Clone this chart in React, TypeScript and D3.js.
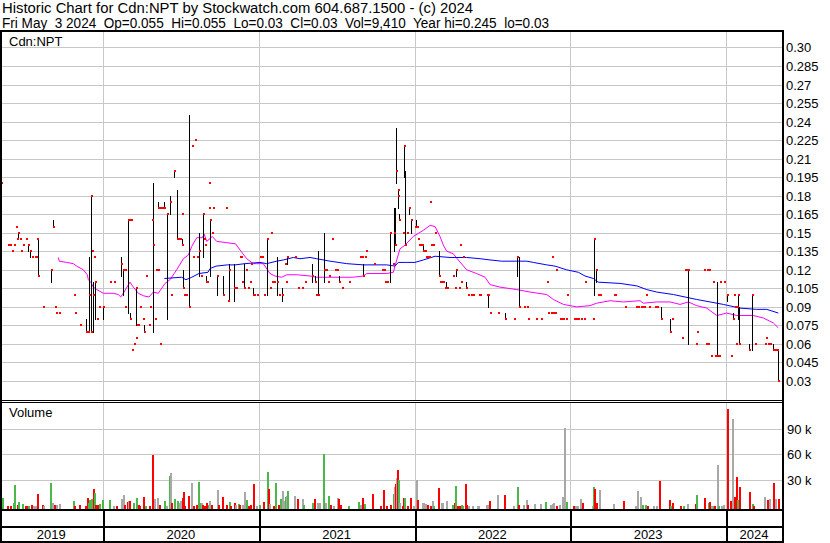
import React from "react";
import * as d3 from "d3";

// ---------- DATA ----------
const TITLE_LINE1 = "Historic Chart for Cdn:NPT by Stockwatch.com 604.687.1500 - (c) 2024";
const TITLE_LINE2 = "Fri May  3 2024  Op=0.055  Hi=0.055  Lo=0.03  Cl=0.03  Vol=9,410  Year hi=0.245  lo=0.03";
const SYMBOL = "Cdn:NPT";

const PRICE_TICKS = [0.3, 0.285, 0.27, 0.255, 0.24, 0.225, 0.21, 0.195, 0.18, 0.165, 0.15, 0.135, 0.12, 0.105, 0.09, 0.075, 0.06, 0.045, 0.03];
const PRICE_TICK_LABELS = ["0.30", "0.285", "0.27", "0.255", "0.24", "0.225", "0.21", "0.195", "0.18", "0.165", "0.15", "0.135", "0.12", "0.105", "0.09", "0.075", "0.06", "0.045", "0.03"];
const VOL_TICKS = [30, 60, 90];
const VOL_TICK_LABELS = ["30 k", "60 k", "90 k"];
const YEARS = [2019, 2020, 2021, 2022, 2023, 2024];
const START_T = 2019.336;
const END_T = 2024.359;

// [decimal year, high, low, close]
const PRICE_BARS: [number, number, number, number][] = [
  [2019.342,0.195,0.19,0.19],[2019.390,0.14,0.14,0.14],[2019.403,0.14,0.14,0.14],[2019.416,0.135,0.135,0.135],
  [2019.427,0.14,0.14,0.14],[2019.439,0.155,0.155,0.155],[2019.446,0.145,0.145,0.145],[2019.452,0.15,0.145,0.15],
  [2019.465,0.145,0.145,0.145],[2019.473,0.135,0.135,0.135],[2019.486,0.14,0.14,0.14],[2019.506,0.145,0.145,0.145],
  [2019.518,0.14,0.135,0.14],[2019.531,0.135,0.13,0.135],[2019.544,0.13,0.13,0.13],[2019.563,0.13,0.13,0.13],
  [2019.570,0.13,0.13,0.13],[2019.578,0.145,0.145,0.145],[2019.581,0.145,0.115,0.115],[2019.617,0.09,0.09,0.09],
  [2019.664,0.12,0.11,0.12],[2019.677,0.16,0.155,0.155],[2019.692,0.09,0.09,0.09],[2019.698,0.085,0.085,0.085],
  [2019.719,0.085,0.085,0.085],[2019.814,0.1,0.1,0.1],[2019.820,0.085,0.085,0.085],[2019.852,0.075,0.075,0.075],
  [2019.891,0.08,0.07,0.07],[2019.898,0.07,0.07,0.07],[2019.904,0.07,0.07,0.07],[2019.908,0.13,0.07,0.1],
  [2019.921,0.18,0.07,0.18],[2019.925,0.15,0.07,0.07],[2019.929,0.135,0.135,0.135],[2019.936,0.11,0.07,0.1],
  [2019.942,0.13,0.13,0.13],[2019.946,0.11,0.08,0.11],[2019.960,0.08,0.08,0.08],[2019.974,0.09,0.09,0.09],
  [2019.998,0.09,0.08,0.09],[2020.045,0.11,0.11,0.11],[2020.071,0.11,0.11,0.11],[2020.118,0.13,0.115,0.125],
  [2020.130,0.12,0.1,0.12],[2020.139,0.12,0.12,0.12],[2020.143,0.09,0.09,0.09],[2020.162,0.16,0.085,0.16],
  [2020.168,0.16,0.16,0.16],[2020.176,0.085,0.08,0.08],[2020.180,0.16,0.16,0.16],[2020.186,0.055,0.055,0.055],
  [2020.199,0.06,0.06,0.06],[2020.210,0.065,0.065,0.065],[2020.214,0.105,0.075,0.105],[2020.220,0.075,0.075,0.075],
  [2020.225,0.075,0.075,0.075],[2020.238,0.09,0.09,0.09],[2020.258,0.08,0.08,0.08],[2020.261,0.075,0.07,0.07],
  [2020.276,0.115,0.115,0.115],[2020.293,0.075,0.075,0.075],[2020.302,0.09,0.09,0.09],[2020.315,0.16,0.16,0.16],
  [2020.319,0.19,0.07,0.14],[2020.332,0.08,0.08,0.08],[2020.340,0.12,0.12,0.12],[2020.350,0.12,0.12,0.12],
  [2020.355,0.175,0.17,0.17],[2020.362,0.17,0.17,0.17],[2020.366,0.06,0.06,0.06],[2020.375,0.17,0.17,0.17],
  [2020.385,0.17,0.17,0.17],[2020.394,0.175,0.17,0.17],[2020.413,0.165,0.08,0.165],[2020.428,0.18,0.165,0.175],
  [2020.437,0.1,0.1,0.1],[2020.458,0.2,0.195,0.2],[2020.477,0.185,0.145,0.145],[2020.487,0.145,0.145,0.145],
  [2020.494,0.145,0.145,0.145],[2020.505,0.165,0.165,0.165],[2020.510,0.145,0.14,0.14],[2020.516,0.12,0.105,0.105],
  [2020.522,0.1,0.1,0.1],[2020.533,0.1,0.1,0.1],[2020.550,0.245,0.09,0.09],[2020.571,0.22,0.22,0.22],
  [2020.576,0.13,0.13,0.13],[2020.591,0.225,0.225,0.225],[2020.602,0.13,0.13,0.13],[2020.614,0.15,0.115,0.135],
  [2020.629,0.115,0.115,0.115],[2020.640,0.165,0.13,0.165],[2020.646,0.145,0.145,0.145],[2020.655,0.14,0.14,0.14],
  [2020.660,0.115,0.11,0.11],[2020.666,0.11,0.11,0.11],[2020.679,0.17,0.17,0.17],[2020.683,0.19,0.19,0.19],
  [2020.689,0.16,0.115,0.16],[2020.698,0.15,0.15,0.15],[2020.704,0.17,0.17,0.17],[2020.730,0.115,0.115,0.115],
  [2020.734,0.115,0.1,0.115],[2020.772,0.115,0.1,0.1],[2020.790,0.17,0.17,0.17],[2020.805,0.095,0.095,0.095],
  [2020.811,0.125,0.095,0.12],[2020.843,0.125,0.095,0.105],[2020.852,0.105,0.105,0.105],[2020.880,0.13,0.13,0.13],
  [2020.886,0.13,0.13,0.13],[2020.893,0.11,0.11,0.11],[2020.907,0.125,0.105,0.105],[2020.916,0.12,0.12,0.12],
  [2020.931,0.105,0.105,0.105],[2020.944,0.11,0.11,0.11],[2020.950,0.125,0.125,0.125],[2020.965,0.105,0.1,0.1],
  [2020.970,0.1,0.1,0.1],[2020.987,0.1,0.1,0.1],[2021.008,0.13,0.13,0.13],[2021.021,0.13,0.13,0.13],
  [2021.032,0.1,0.1,0.1],[2021.055,0.145,0.1,0.145],[2021.072,0.105,0.105,0.105],[2021.077,0.15,0.15,0.15],
  [2021.085,0.11,0.11,0.11],[2021.098,0.11,0.11,0.11],[2021.115,0.13,0.1,0.11],[2021.128,0.1,0.1,0.1],
  [2021.151,0.105,0.095,0.1],[2021.171,0.125,0.125,0.125],[2021.178,0.11,0.11,0.11],[2021.183,0.13,0.125,0.13],
  [2021.233,0.13,0.13,0.13],[2021.250,0.105,0.105,0.105],[2021.280,0.105,0.105,0.105],[2021.297,0.11,0.11,0.11],
  [2021.344,0.125,0.11,0.115],[2021.362,0.115,0.11,0.11],[2021.368,0.1,0.1,0.1],[2021.375,0.1,0.1,0.1],
  [2021.382,0.135,0.1,0.1],[2021.419,0.15,0.11,0.12],[2021.432,0.12,0.12,0.12],[2021.445,0.11,0.11,0.11],
  [2021.451,0.115,0.115,0.115],[2021.470,0.145,0.145,0.145],[2021.490,0.12,0.12,0.12],[2021.500,0.12,0.12,0.12],
  [2021.513,0.115,0.11,0.11],[2021.535,0.105,0.105,0.105],[2021.578,0.11,0.11,0.11],[2021.650,0.13,0.13,0.13],
  [2021.660,0.13,0.13,0.13],[2021.668,0.125,0.115,0.115],[2021.680,0.13,0.13,0.13],[2021.689,0.135,0.135,0.135],
  [2021.740,0.125,0.125,0.125],[2021.793,0.12,0.12,0.12],[2021.806,0.12,0.12,0.12],[2021.811,0.11,0.11,0.11],
  [2021.822,0.11,0.11,0.11],[2021.845,0.15,0.11,0.15],[2021.860,0.125,0.125,0.125],[2021.869,0.17,0.135,0.15],
  [2021.873,0.17,0.14,0.14],[2021.883,0.235,0.19,0.2],[2021.892,0.18,0.18,0.18],[2021.896,0.185,0.17,0.185],
  [2021.899,0.165,0.16,0.16],[2021.926,0.15,0.15,0.15],[2021.935,0.22,0.195,0.22],[2021.941,0.2,0.14,0.14],
  [2021.950,0.15,0.15,0.15],[2021.967,0.17,0.165,0.17],[2021.978,0.16,0.15,0.16],[2022.001,0.155,0.155,0.155],
  [2022.012,0.16,0.155,0.155],[2022.018,0.155,0.155,0.155],[2022.025,0.145,0.145,0.145],[2022.029,0.14,0.14,0.14],
  [2022.037,0.14,0.14,0.14],[2022.046,0.14,0.14,0.14],[2022.053,0.14,0.135,0.135],[2022.061,0.135,0.135,0.135],
  [2022.069,0.135,0.135,0.135],[2022.075,0.13,0.13,0.13],[2022.082,0.13,0.13,0.13],[2022.093,0.13,0.13,0.13],
  [2022.100,0.175,0.175,0.175],[2022.106,0.14,0.14,0.14],[2022.112,0.14,0.14,0.14],[2022.119,0.14,0.14,0.14],
  [2022.132,0.15,0.15,0.15],[2022.156,0.135,0.115,0.115],[2022.164,0.11,0.11,0.11],[2022.172,0.11,0.11,0.11],
  [2022.181,0.11,0.11,0.11],[2022.196,0.105,0.105,0.105],[2022.202,0.11,0.105,0.105],[2022.211,0.105,0.105,0.105],
  [2022.247,0.115,0.115,0.115],[2022.258,0.105,0.105,0.105],[2022.265,0.12,0.115,0.12],[2022.286,0.105,0.105,0.105],
  [2022.294,0.14,0.14,0.14],[2022.300,0.11,0.11,0.11],[2022.310,0.13,0.13,0.13],[2022.331,0.11,0.105,0.105],
  [2022.344,0.1,0.1,0.1],[2022.361,0.1,0.1,0.1],[2022.378,0.1,0.1,0.1],[2022.412,0.1,0.1,0.1],
  [2022.421,0.1,0.1,0.1],[2022.464,0.1,0.1,0.1],[2022.472,0.1,0.09,0.1],[2022.485,0.085,0.085,0.085],
  [2022.534,0.085,0.085,0.085],[2022.579,0.085,0.08,0.08],[2022.639,0.08,0.08,0.08],[2022.660,0.13,0.115,0.13],
  [2022.669,0.13,0.09,0.09],[2022.701,0.09,0.09,0.09],[2022.721,0.09,0.09,0.09],[2022.729,0.08,0.08,0.08],
  [2022.778,0.08,0.08,0.08],[2022.810,0.08,0.08,0.08],[2022.849,0.11,0.11,0.11],[2022.855,0.085,0.085,0.085],
  [2022.875,0.085,0.085,0.085],[2022.883,0.13,0.13,0.13],[2022.890,0.085,0.085,0.085],[2022.900,0.085,0.085,0.085],
  [2022.907,0.12,0.12,0.12],[2022.934,0.08,0.08,0.08],[2022.945,0.08,0.08,0.08],[2022.954,0.08,0.08,0.08],
  [2022.973,0.08,0.08,0.08],[2022.979,0.1,0.1,0.1],[2023.022,0.08,0.08,0.08],[2023.035,0.08,0.08,0.08],
  [2023.050,0.08,0.08,0.08],[2023.069,0.08,0.08,0.08],[2023.088,0.08,0.08,0.08],[2023.093,0.11,0.11,0.11],
  [2023.144,0.08,0.08,0.08],[2023.151,0.145,0.1,0.145],[2023.164,0.12,0.11,0.12],[2023.176,0.1,0.1,0.1],
  [2023.191,0.1,0.1,0.1],[2023.281,0.1,0.1,0.1],[2023.289,0.1,0.1,0.1],[2023.350,0.09,0.09,0.09],
  [2023.420,0.09,0.09,0.09],[2023.437,0.09,0.09,0.09],[2023.453,0.09,0.09,0.09],[2023.465,0.09,0.09,0.09],
  [2023.476,0.09,0.09,0.09],[2023.487,0.1,0.1,0.1],[2023.504,0.09,0.09,0.09],[2023.542,0.09,0.09,0.09],
  [2023.559,0.09,0.09,0.09],[2023.581,0.09,0.08,0.08],[2023.641,0.08,0.07,0.07],[2023.652,0.08,0.08,0.08],
  [2023.716,0.065,0.065,0.065],[2023.735,0.12,0.12,0.12],[2023.745,0.12,0.12,0.12],[2023.754,0.12,0.06,0.12],
  [2023.806,0.06,0.06,0.06],[2023.812,0.07,0.07,0.07],[2023.861,0.12,0.12,0.12],[2023.872,0.06,0.06,0.06],
  [2023.878,0.12,0.12,0.12],[2023.887,0.06,0.06,0.06],[2023.893,0.12,0.12,0.12],[2023.902,0.05,0.05,0.05],
  [2023.919,0.11,0.11,0.11],[2023.932,0.05,0.05,0.05],[2023.945,0.11,0.05,0.05],[2023.954,0.05,0.05,0.05],
  [2023.962,0.11,0.11,0.11],[2023.988,0.11,0.11,0.11],[2024.009,0.1,0.095,0.1],[2024.031,0.05,0.05,0.05],
  [2024.042,0.085,0.08,0.08],[2024.048,0.08,0.08,0.08],[2024.052,0.1,0.1,0.1],[2024.058,0.09,0.09,0.09],
  [2024.066,0.06,0.06,0.06],[2024.072,0.09,0.09,0.09],[2024.079,0.1,0.08,0.1],[2024.086,0.09,0.06,0.06],
  [2024.150,0.06,0.055,0.055],[2024.169,0.1,0.055,0.1],[2024.187,0.06,0.06,0.06],[2024.253,0.06,0.06,0.06],
  [2024.258,0.065,0.065,0.065],[2024.268,0.06,0.06,0.06],[2024.283,0.06,0.06,0.06],[2024.304,0.06,0.055,0.055],
  [2024.312,0.055,0.055,0.055],[2024.326,0.055,0.055,0.055],[2024.336,0.055,0.03,0.03],
];

// [decimal year, volume in thousands, direction: 1 up, -1 down, 0 unchanged]
const VOLUME: [number, number, number][] = [
  [2019.350,8.9,1],[2019.382,0.5,-1],[2019.403,0.3,-1],[2019.420,3.1,1],[2019.430,24.3,1],[2019.446,1.2,-1],
  [2019.456,5,1],[2019.478,2.3,1],[2019.499,0.5,-1],[2019.510,0.5,-1],[2019.520,0.5,1],[2019.538,1.2,-1],
  [2019.552,0.3,0],[2019.563,0.5,0],[2019.574,13.9,-1],[2019.610,1.2,-1],[2019.617,0.5,0],[2019.660,26.6,1],
  [2019.675,3.1,0],[2019.685,0.8,-1],[2019.698,0.8,0],[2019.717,2.3,0],[2019.805,5.8,1],[2019.814,0.5,-1],
  [2019.846,1.2,-1],[2019.884,0.5,-1],[2019.895,9.2,-1],[2019.902,3.9,1],[2019.908,6.9,1],[2019.921,8.1,1],
  [2019.934,19.6,-1],[2019.940,14.6,1],[2019.946,1.2,-1],[2019.960,0.8,-1],[2019.972,2.3,1],[2019.994,6.9,1],
  [2020.037,6.9,1],[2020.062,0.5,0],[2020.083,0.5,-1],[2020.114,8.1,0],[2020.126,12.7,0],[2020.135,0.8,-1],
  [2020.156,4.2,-1],[2020.162,5.8,0],[2020.169,5.8,-1],[2020.195,3.1,1],[2020.212,8.9,1],[2020.223,1.2,-1],
  [2020.233,0.5,-1],[2020.255,10,-1],[2020.272,0.5,1],[2020.293,0.5,-1],[2020.315,58.9,-1],[2020.326,8.1,0],
  [2020.345,8.9,0],[2020.358,1.2,-1],[2020.390,5.8,1],[2020.405,0.5,0],[2020.422,34.3,1],[2020.430,38.1,0],
  [2020.436,3.9,-1],[2020.456,8.1,1],[2020.473,5.8,1],[2020.488,3.1,0],[2020.496,6.2,0],[2020.505,9.6,-1],
  [2020.514,15.8,-1],[2020.522,0.5,-1],[2020.548,11.6,-1],[2020.565,26.6,0],[2020.576,0.5,-1],[2020.597,1.2,-1],
  [2020.610,27.3,1],[2020.618,3.9,1],[2020.631,3.1,0],[2020.638,1.2,-1],[2020.650,0.5,-1],[2020.659,3.9,-1],
  [2020.676,1.2,1],[2020.683,5.8,0],[2020.693,0.8,-1],[2020.730,18.5,0],[2020.740,1.2,-1],[2020.766,10,-1],
  [2020.790,1.2,-1],[2020.807,4.2,1],[2020.815,0.5,-1],[2020.843,3.1,-1],[2020.849,1.2,0],[2020.865,1.9,1],
  [2020.875,1.2,-1],[2020.893,1.2,0],[2020.905,15.8,0],[2020.916,6.9,1],[2020.929,0.5,-1],[2020.944,0.8,-1],
  [2020.961,25.4,-1],[2020.982,0.3,0],[2021.002,1.2,1],[2021.029,4.2,-1],[2021.051,39.7,1],[2021.061,19.6,-1],
  [2021.068,1.9,0],[2021.090,0.5,-1],[2021.106,26.6,1],[2021.122,0.8,-1],[2021.135,8.1,1],[2021.147,17.7,0],
  [2021.158,6.2,0],[2021.169,10,1],[2021.175,11.9,0],[2021.180,17.3,1],[2021.225,11.2,0],[2021.244,8.1,-1],
  [2021.276,8.1,0],[2021.286,0.8,1],[2021.340,3.5,1],[2021.355,8.1,-1],[2021.372,3.5,0],[2021.387,3.5,0],
  [2021.415,60,1],[2021.425,3.5,0],[2021.445,11.6,1],[2021.458,0.8,-1],[2021.475,0.5,0],[2021.501,9.2,0],
  [2021.507,8.1,-1],[2021.524,1.2,-1],[2021.571,0.5,1],[2021.639,4.2,1],[2021.650,1.2,0],[2021.663,9.2,-1],
  [2021.678,2.3,1],[2021.729,13.9,-1],[2021.779,0.5,-1],[2021.800,18.9,-1],[2021.817,0.5,-1],[2021.843,1.2,-1],
  [2021.860,13.5,1],[2021.870,21.6,0],[2021.875,25.4,-1],[2021.881,32.3,0],[2021.890,42,-1],[2021.894,30,1],
  [2021.903,3.5,0],[2021.920,0.5,-1],[2021.928,9.2,-1],[2021.935,8.9,1],[2021.950,0.5,-1],[2021.971,9.2,-1],
  [2021.992,0.5,0],[2022.008,30,0],[2022.014,6.9,-1],[2022.046,3.5,0],[2022.057,3.5,0],[2022.068,2.3,0],
  [2022.079,0.8,-1],[2022.100,0.3,-1],[2022.111,6.2,0],[2022.121,0.5,1],[2022.153,20.4,-1],[2022.170,3.1,0],
  [2022.179,3.5,0],[2022.201,6.2,0],[2022.239,1.2,1],[2022.252,3.5,-1],[2022.260,23.5,1],[2022.271,0.5,-1],
  [2022.286,0.5,-1],[2022.297,0.8,1],[2022.307,0.5,1],[2022.324,25,-1],[2022.331,1.2,-1],[2022.346,0.3,0],
  [2022.367,0.3,0],[2022.399,0.5,0],[2022.410,0.5,0],[2022.457,1.2,0],[2022.470,0.8,0],[2022.479,6.2,-1],
  [2022.528,12.7,0],[2022.575,12.7,-1],[2022.631,0.5,0],[2022.656,22.3,1],[2022.663,1.2,-1],[2022.695,1.2,0],
  [2022.716,6.9,0],[2022.721,1.2,-1],[2022.767,1.9,0],[2022.804,1.9,0],[2022.840,4.2,1],[2022.870,1.2,0],
  [2022.881,2.3,0],[2022.891,3.1,0],[2022.909,0.5,-1],[2022.928,1.2,0],[2022.947,10,0],[2022.960,90.9,0],
  [2022.973,4.2,1],[2023.016,0.3,-1],[2023.031,0.5,0],[2023.042,0.5,0],[2023.063,8.1,0],[2023.078,3.5,-1],
  [2023.138,0.5,0],[2023.144,21.6,1],[2023.155,19.6,-1],[2023.166,3.5,-1],[2023.183,18.9,0],[2023.273,1.9,0],
  [2023.341,5.8,-1],[2023.416,0.5,0],[2023.427,17,0],[2023.448,10.8,0],[2023.463,1.2,1],[2023.480,0.8,1],
  [2023.495,0.5,-1],[2023.534,0.5,0],[2023.551,0.5,0],[2023.572,28.5,-1],[2023.634,6.9,-1],[2023.641,0.5,1],
  [2023.652,3.1,-1],[2023.705,0.5,-1],[2023.726,0.5,1],[2023.748,1.9,0],[2023.801,1.9,-1],[2023.808,12.7,1],
  [2023.859,9.2,-1],[2023.883,3.1,1],[2023.893,4.2,-1],[2023.902,0.5,0],[2023.915,0.5,1],[2023.923,0.5,-1],
  [2023.941,47.4,0],[2023.951,0.3,1],[2023.968,0.3,0],[2023.983,1.2,0],[2024.004,113,-1],[2024.026,6.2,-1],
  [2024.040,101.6,0],[2024.053,10,-1],[2024.062,33.1,-1],[2024.069,7.3,1],[2024.083,21.6,-1],[2024.148,15.8,-1],
  [2024.165,2.3,1],[2024.175,0.5,-1],[2024.246,10,0],[2024.262,7.3,-1],[2024.274,8.1,0],[2024.300,26.6,-1],
  [2024.313,8.1,0],[2024.332,8.1,-1],
];

// Moving averages: [decimal year, value]
const MA_SHORT: [number, number][] = [
  [2019.713,0.130],[2019.719,0.127],[2019.767,0.126],[2019.809,0.125],[2019.831,0.123],[2019.874,0.120],
  [2019.899,0.116],[2019.906,0.112],[2019.921,0.110],[2019.938,0.106],[2019.960,0.104],[2020.002,0.101],
  [2020.066,0.101],[2020.098,0.100],[2020.114,0.098],[2020.135,0.102],[2020.173,0.110],[2020.195,0.106],
  [2020.227,0.101],[2020.259,0.099],[2020.295,0.098],[2020.323,0.102],[2020.355,0.101],[2020.398,0.109],
  [2020.430,0.112],[2020.473,0.120],[2020.516,0.129],[2020.548,0.132],[2020.570,0.139],[2020.602,0.146],
  [2020.638,0.146],[2020.649,0.149],[2020.666,0.143],[2020.702,0.147],[2020.730,0.143],[2020.794,0.142],
  [2020.852,0.141],[2020.880,0.136],[2020.923,0.129],[2020.965,0.125],[2020.987,0.125],[2021.029,0.125],
  [2021.072,0.117],[2021.104,0.115],[2021.147,0.114],[2021.180,0.116],[2021.244,0.116],[2021.329,0.115],
  [2021.372,0.114],[2021.458,0.114],[2021.522,0.114],[2021.607,0.114],[2021.671,0.115],[2021.693,0.117],
  [2021.822,0.117],[2021.864,0.118],[2021.886,0.128],[2021.907,0.137],[2021.939,0.140],[2021.992,0.147],
  [2022.057,0.152],[2022.100,0.156],[2022.132,0.155],[2022.164,0.147],[2022.185,0.140],[2022.207,0.135],
  [2022.249,0.133],[2022.281,0.128],[2022.335,0.120],[2022.399,0.117],[2022.453,0.114],[2022.485,0.108],
  [2022.549,0.106],[2022.656,0.104],[2022.742,0.102],[2022.849,0.100],[2022.891,0.096],[2022.956,0.092],
  [2023.042,0.090],[2023.127,0.091],[2023.170,0.093],[2023.255,0.095],[2023.341,0.094],[2023.448,0.095],
  [2023.469,0.093],[2023.555,0.094],[2023.641,0.094],[2023.705,0.092],[2023.758,0.094],[2023.812,0.091],
  [2023.876,0.089],[2023.941,0.083],[2024.005,0.085],[2024.069,0.083],[2024.176,0.083],[2024.240,0.081],
  [2024.304,0.077],[2024.336,0.073],
];

const MA_LONG: [number, number][] = [
  [2020.394,0.113],[2020.505,0.114],[2020.533,0.112],[2020.570,0.114],[2020.616,0.117],[2020.674,0.118],
  [2020.687,0.121],[2020.726,0.123],[2020.798,0.124],[2020.848,0.124],[2020.912,0.125],[2021.008,0.126],
  [2021.051,0.125],[2021.115,0.127],[2021.158,0.128],[2021.222,0.130],[2021.265,0.129],[2021.329,0.130],
  [2021.372,0.129],[2021.458,0.127],[2021.565,0.125],[2021.671,0.124],[2021.822,0.124],[2021.875,0.123],
  [2021.896,0.126],[2021.950,0.126],[2022.003,0.126],[2022.057,0.128],[2022.132,0.131],[2022.228,0.130],
  [2022.335,0.130],[2022.421,0.129],[2022.485,0.128],[2022.560,0.127],[2022.656,0.127],[2022.721,0.127],
  [2022.763,0.126],[2022.849,0.124],[2022.902,0.123],[2022.977,0.120],[2023.052,0.118],[2023.095,0.115],
  [2023.148,0.113],[2023.180,0.110],[2023.320,0.109],[2023.427,0.107],[2023.491,0.104],[2023.555,0.102],
  [2023.662,0.100],[2023.737,0.098],[2023.812,0.096],[2023.898,0.094],[2023.983,0.092],[2024.090,0.089],
  [2024.197,0.088],[2024.262,0.088],[2024.336,0.085],
];

// ---------- LAYOUT ----------
const W = 830;
const H = 543;
const LEFT = 0;
const RIGHT = 782;
const PRICE_TOP = 32;
const PRICE_BOTTOM = 400;
const VOL_TOP = 403;
const VOL_BASE = 509;
const BAND_TOP = 510;
const YEAR_TOP = 527;
const BOTTOM = 541;
const FONT = "'Liberation Sans', Arial, Helvetica, sans-serif";
const GRID = "#c8c8c8";

export default function App() {
  const xs = d3.scaleLinear().domain([2020, 2024]).range([103, 726]);
  const ys = d3.scaleLinear().domain([0.03, 0.285]).range([381, 66]);
  const vs = d3.scaleLinear().domain([0, 90]).range([506, 428.5]);

  const line = d3
    .line<[number, number]>()
    .x((d) => xs(d[0]))
    .y((d) => ys(d[1]));

  const yearBounds = YEARS.map((y) => {
    const a = Math.max(START_T, y);
    const b = Math.min(END_T, y + 1);
    return { y, cx: (xs(a) + xs(b)) / 2 };
  });
  const yearLines = YEARS.slice(1).map((y) => Math.round(xs(y)) + 0.5);

  return (
    <div style={{ width: W, height: H }}>
      <style>{"body{margin:0;}"}</style>
      <svg width={W} height={H} style={{ display: "block", background: "#fff" }} fontFamily={FONT}>
        <defs>
          <clipPath id="pclip">
            <rect x={2} y={PRICE_TOP} width={RIGHT - 2} height={PRICE_BOTTOM - PRICE_TOP} />
          </clipPath>
        </defs>
        <rect x={0} y={0} width={W} height={H} fill="#fff" />

        {/* header */}
        <text x={2} y={13} fontSize={14} fill="#000" xmlSpace="preserve" textLength={471} lengthAdjust="spacingAndGlyphs">{TITLE_LINE1}</text>
        <text x={2} y={27.5} fontSize={14} fill="#000" xmlSpace="preserve" textLength={547} lengthAdjust="spacingAndGlyphs">{TITLE_LINE2}</text>

        {/* price grid */}
        {PRICE_TICKS.map((t) => (
          <line key={"pg" + t} x1={2} x2={RIGHT} y1={Math.round(ys(t)) + 0.5} y2={Math.round(ys(t)) + 0.5} stroke={GRID} strokeWidth={1} />
        ))}
        {yearLines.map((x) => (
          <line key={"pv" + x} x1={x} x2={x} y1={PRICE_TOP} y2={PRICE_BOTTOM} stroke={GRID} strokeWidth={1} />
        ))}

        {/* volume grid */}
        {VOL_TICKS.map((t) => (
          <line key={"vg" + t} x1={2} x2={RIGHT} y1={Math.round(vs(t)) + 0.5} y2={Math.round(vs(t)) + 0.5} stroke={GRID} strokeWidth={1} />
        ))}
        {yearLines.map((x) => (
          <line key={"vv" + x} x1={x} x2={x} y1={VOL_TOP} y2={VOL_BASE} stroke={GRID} strokeWidth={1} />
        ))}

        <text x={9} y={46} fontSize={13} fill="#000">{SYMBOL}</text>
        <text x={9} y={417} fontSize={13} fill="#000">Volume</text>

        {/* moving averages */}
        <g clipPath="url(#pclip)">
          <path d={line(MA_SHORT) || ""} fill="none" stroke="#ff00ff" strokeWidth={1} />
          <path d={line(MA_LONG) || ""} fill="none" stroke="#0000ff" strokeWidth={1} />
        </g>

        {/* price bars */}
        <g clipPath="url(#pclip)" shapeRendering="crispEdges">
          {PRICE_BARS.map((d, i) => {
            const x = Math.round(xs(d[0]));
            const yh = Math.round(ys(d[1]));
            const yl = Math.round(ys(d[2]));
            return yl > yh ? (
              <rect key={"b" + i} x={x} y={yh} width={1} height={yl - yh + 1} fill="#000" />
            ) : null;
          })}
          {PRICE_BARS.map((d, i) => {
            const x = Math.round(xs(d[0]));
            const yc = Math.round(ys(d[3]));
            return <rect key={"c" + i} x={x} y={yc - 1} width={2} height={2} fill="#ff0000" />;
          })}
        </g>

        {/* volume bars */}
        <g shapeRendering="crispEdges">
          {VOLUME.map((d, i) => {
            const x = Math.round(xs(d[0]));
            const y = Math.min(Math.round(vs(d[1])), VOL_BASE - 1);
            const color = d[2] > 0 ? "#4cb84c" : d[2] < 0 ? "#ff0000" : "#a8a8a8";
            return <rect key={"v" + i} x={x} y={y} width={2} height={VOL_BASE - y} fill={color} />;
          })}
        </g>

        {/* frame */}
        <g shapeRendering="crispEdges" fill="#000">
          <rect x={0} y={30} width={RIGHT + 2} height={2} />
          <rect x={0} y={400} width={RIGHT} height={1} />
          <rect x={0} y={402} width={RIGHT} height={1} />
          <rect x={0} y={VOL_BASE} width={RIGHT + 2} height={2} />
          <rect x={0} y={YEAR_TOP - 1} width={RIGHT + 2} height={2} />
          <rect x={0} y={BOTTOM} width={RIGHT + 2} height={2} />
          <rect x={LEFT} y={30} width={2} height={BOTTOM - 28} />
          <rect x={RIGHT} y={30} width={2} height={BOTTOM - 28} />
          {yearLines.map((x) => (
            <rect key={"yl" + x} x={x - 0.5} y={BAND_TOP} width={2} height={BOTTOM - BAND_TOP} />
          ))}
        </g>

        {/* axis labels */}
        {PRICE_TICKS.map((t, i) => (
          <text key={"pl" + t} x={786} y={ys(t) + 5} fontSize={13} fill="#000">{PRICE_TICK_LABELS[i]}</text>
        ))}
        {VOL_TICKS.map((t, i) => (
          <text key={"vl" + t} x={787} y={vs(t) + 5} fontSize={13} fill="#000">{VOL_TICK_LABELS[i]}</text>
        ))}
        {yearBounds.map((d) => (
          <text key={"yr" + d.y} x={d.cx} y={539} fontSize={13} textAnchor="middle" fill="#000">{d.y}</text>
        ))}
      </svg>
    </div>
  );
}
